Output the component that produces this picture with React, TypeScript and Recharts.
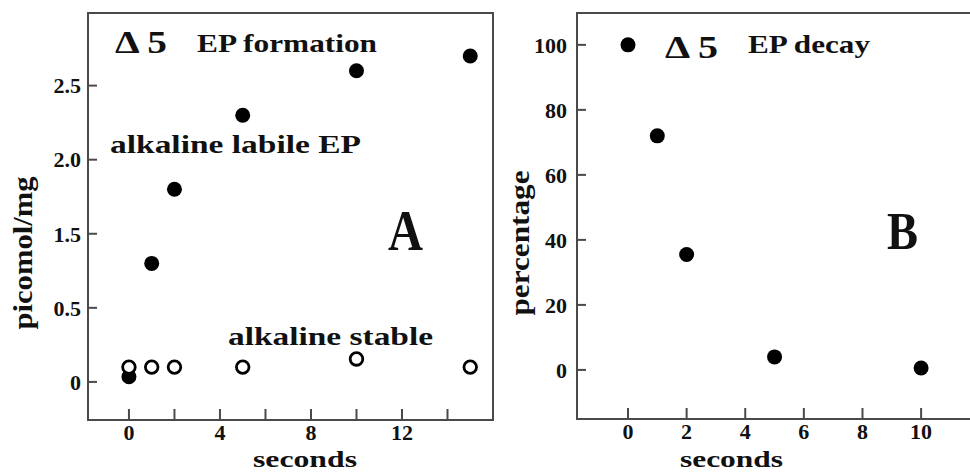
import { ScatterChart, Scatter, XAxis, YAxis, ReferenceArea } from 'recharts';

// panel A: EP formation (tick spacing is even; the printed labels skip "1.0")
const secondsA = [0, 1, 2, 5, 10, 15];
const labileEP = [0.035, 0.8, 1.3, 1.8, 2.1, 2.2];
const stableEP = [0.1, 0.1, 0.1, 0.1, 0.155, 0.1];
const xTicksA = [0, 2, 4, 6, 8, 10, 12, 14];
const xLabelsA = [0, 4, 8, 12];
const yTicksA = [0, 0.5, 1, 1.5, 2];
const yTickLabelsA = ['0', '0.5', '1.5', '2.0', '2.5'];

// panel B: EP decay
const secondsB = [0, 1, 2, 5, 10];
const decayPct = [100, 72, 35.5, 4, 0.6];
const xTicksB = [0, 2, 4, 6, 8, 10];
const yTicksB = [0, 20, 40, 60, 80, 100];

const xDomainA: [number, number] = [-1.8, 16];
const yDomainA: [number, number] = [-0.257, 2.49];
const xDomainB: [number, number] = [-1.74, 12.18];
const yDomainB: [number, number] = [-15.1, 109.8];

const labileData = secondsA.map((t, i) => ({ t, v: labileEP[i] }));
const stableData = secondsA.map((t, i) => ({ t, v: stableEP[i] }));
const decayData = secondsB.map((t, i) => ({ t, v: decayPct[i] }));

const serif = "'Times New Roman', 'Liberation Serif', Times, serif";
const frame = '#4a4a4a';
const tickStyle = { fontFamily: serif, fontWeight: 'bold', fontSize: 22, fill: '#111' };

const filledDot = (p: any) => <circle cx={p.cx} cy={p.cy} r={7.5} fill="#000" />;
const openDot = (p: any) => (
  <circle cx={p.cx} cy={p.cy} r={6.3} fill="#fff" stroke="#000" strokeWidth={2.8} />
);

function Note({ x, y, size, len, children, rotate }: any) {
  return (
    <text
      x={rotate ? 0 : x}
      y={rotate ? 0 : y}
      transform={rotate ? `translate(${x},${y}) rotate(-90)` : undefined}
      textAnchor={rotate ? 'middle' : 'start'}
      textLength={len}
      lengthAdjust="spacingAndGlyphs"
      style={{ fontFamily: serif, fontWeight: 'bold', fontSize: size }}
      fill="#111"
    >
      {children}
    </text>
  );
}

export default function App() {
  return (
    <div
      style={{
        position: 'absolute',
        left: 0,
        top: 0,
        width: 970,
        height: 472,
        overflow: 'hidden',
        background: '#fff',
      }}
    >
      <div style={{ position: 'absolute', left: 0, top: 0 }}>
        <ScatterChart width={500} height={472} margin={{ top: 13, right: 7, bottom: 0, left: 0 }}>
          <XAxis
            type="number"
            dataKey="t"
            domain={xDomainA}
            ticks={xTicksA}
            interval={0}
            allowDataOverflow
            height={52}
            axisLine={false}
            tickSize={-11}
            tickMargin={15}
            tickLine={{ stroke: frame, strokeWidth: 2 }}
            tick={tickStyle}
            tickFormatter={(v: number) => (xLabelsA.includes(v) ? String(v) : '')}
          />
          <YAxis
            type="number"
            dataKey="v"
            domain={yDomainA}
            ticks={yTicksA}
            interval={0}
            allowDataOverflow
            width={88}
            axisLine={false}
            tickSize={-9}
            tickMargin={16}
            tickLine={{ stroke: frame, strokeWidth: 2 }}
            tick={tickStyle}
            tickFormatter={(v: number) => yTickLabelsA[yTicksA.indexOf(v)] ?? ''}
          />
          <ReferenceArea
            x1={xDomainA[0]}
            x2={xDomainA[1]}
            y1={yDomainA[0]}
            y2={yDomainA[1]}
            fill="none"
            stroke={frame}
            strokeWidth={2}
          />
          <Scatter data={labileData} shape={filledDot} isAnimationActive={false} />
          <Scatter data={stableData} shape={openDot} isAnimationActive={false} />
        </ScatterChart>
      </div>

      <div style={{ position: 'absolute', left: 490, top: 0 }}>
        <ScatterChart width={500} height={472} margin={{ top: 13, right: 5, bottom: 0, left: 0 }}>
          <XAxis
            type="number"
            dataKey="t"
            domain={xDomainB}
            ticks={xTicksB}
            interval={0}
            allowDataOverflow
            height={53}
            axisLine={false}
            tickSize={-11}
            tickMargin={15}
            tickLine={{ stroke: frame, strokeWidth: 2 }}
            tick={tickStyle}
          />
          <YAxis
            type="number"
            dataKey="v"
            domain={yDomainB}
            ticks={yTicksB}
            interval={0}
            allowDataOverflow
            width={87}
            axisLine={false}
            tickSize={-9}
            tickMargin={19}
            tickLine={{ stroke: frame, strokeWidth: 2 }}
            tick={tickStyle}
          />
          <ReferenceArea
            x1={xDomainB[0]}
            x2={xDomainB[1]}
            y1={yDomainB[0]}
            y2={yDomainB[1]}
            fill="none"
            stroke={frame}
            strokeWidth={2}
          />
          <Scatter data={decayData} shape={filledDot} isAnimationActive={false} />
        </ScatterChart>
      </div>

      <svg
        width={970}
        height={472}
        style={{ position: 'absolute', left: 0, top: 0, pointerEvents: 'none' }}
      >
        <Note x={115} y={53} size={32} len={52}>Δ 5</Note>
        <Note x={197} y={52} size={26} len={180}>EP formation</Note>
        <Note x={110} y={153} size={26} len={251}>alkaline labile EP</Note>
        <Note x={388} y={250} size={56} len={35}>A</Note>
        <Note x={228} y={345} size={26} len={205}>alkaline stable</Note>
        <Note x={32} y={253} size={28} len={153} rotate>picomol/mg</Note>
        <Note x={253} y={466.5} size={23} len={104}>seconds</Note>

        <Note x={665} y={58} size={32} len={53}>Δ 5</Note>
        <Note x={748} y={53} size={26} len={122}>EP decay</Note>
        <Note x={887} y={249} size={52} len={31}>B</Note>
        <Note x={529} y={243} size={28} len={145} rotate>percentage</Note>
        <Note x={680} y={466.5} size={23} len={103}>seconds</Note>
      </svg>
    </div>
  );
}
